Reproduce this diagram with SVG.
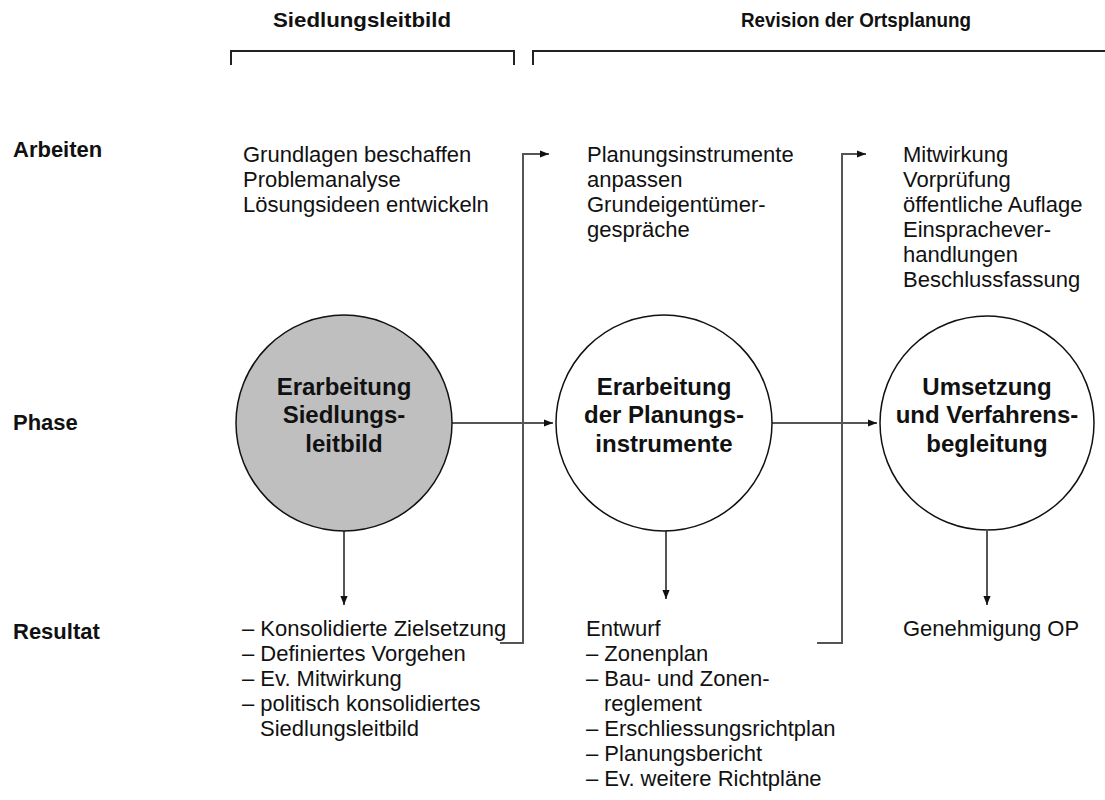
<svg xmlns="http://www.w3.org/2000/svg" width="1105" height="800" viewBox="0 0 1105 800">
<style>
text{font-family:"Liberation Sans",Arial,sans-serif;fill:#111}
.h{font-size:21px;font-weight:bold}
.lab{font-size:22px;font-weight:bold}
.t{font-size:22px}
.c{font-size:24px;font-weight:bold;text-anchor:middle}
.br{fill:none;stroke:#222;stroke-width:2}
.con{fill:none;stroke:#555;stroke-width:2}
.node{stroke:#111;stroke-width:1.5}
</style>
<defs>
<marker id="ah" viewBox="0 0 10 10" refX="10" refY="5" markerWidth="9" markerHeight="9" markerUnits="userSpaceOnUse" orient="auto">
<path d="M0,1 L10,5 L0,9 Z" fill="#111"/>
</marker>
</defs>
<g id="headers">
<text class="h" x="273" y="27" textLength="178" lengthAdjust="spacingAndGlyphs">Siedlungsleitbild</text>
<text class="h" x="741" y="27" textLength="230" lengthAdjust="spacingAndGlyphs">Revision der Ortsplanung</text>
<path class="br" d="M231,65 V51 H514 V65"/>
<path class="br" d="M533,65 V51 H1105"/>
</g>
<g id="rowlabels">
<text class="lab" x="13" y="157">Arbeiten</text>
<text class="lab" x="13" y="430">Phase</text>
<text class="lab" x="13" y="639">Resultat</text>
</g>
<g id="connectors">
<line class="con" x1="452" y1="423" x2="553" y2="423" marker-end="url(#ah)"/>
<line class="con" x1="772" y1="423" x2="877" y2="423" marker-end="url(#ah)"/>
<line class="con" x1="344" y1="531" x2="344" y2="605" marker-end="url(#ah)"/>
<line class="con" x1="666" y1="531" x2="666" y2="599" marker-end="url(#ah)"/>
<line class="con" x1="987" y1="531" x2="987" y2="605" marker-end="url(#ah)"/>
<path class="con" d="M500,643 H523 V154 H549" marker-end="url(#ah)"/>
<path class="con" d="M817,643 H842 V154 H866" marker-end="url(#ah)"/>
</g>
<g id="node-siedlungsleitbild">
<circle class="node" cx="344" cy="423" r="108" fill="#bfbfbf"/>
<text class="c" x="344" y="395">Erarbeitung</text>
<text class="c" x="344" y="423">Siedlungs-</text>
<text class="c" x="344" y="452">leitbild</text>
</g>
<g id="node-planungsinstrumente">
<circle class="node" cx="664" cy="423" r="108" fill="#fff"/>
<text class="c" x="664" y="395">Erarbeitung</text>
<text class="c" x="664" y="423">der Planungs-</text>
<text class="c" x="664" y="452">instrumente</text>
</g>
<g id="node-umsetzung">
<circle class="node" cx="987" cy="423" r="107" fill="#fff"/>
<text class="c" x="987" y="395">Umsetzung</text>
<text class="c" x="987" y="423">und Verfahrens-</text>
<text class="c" x="987" y="452">begleitung</text>
</g>
<g id="arbeiten">
<text class="t" x="243" y="162">Grundlagen beschaffen</text>
<text class="t" x="243" y="187">Problemanalyse</text>
<text class="t" x="243" y="212">Lösungsideen entwickeln</text>
<text class="t" x="587" y="162">Planungsinstrumente</text>
<text class="t" x="587" y="187">anpassen</text>
<text class="t" x="587" y="212">Grundeigentümer-</text>
<text class="t" x="587" y="237">gespräche</text>
<text class="t" x="903" y="162">Mitwirkung</text>
<text class="t" x="903" y="187">Vorprüfung</text>
<text class="t" x="903" y="212">öffentliche Auflage</text>
<text class="t" x="903" y="237">Einsprachever-</text>
<text class="t" x="903" y="262">handlungen</text>
<text class="t" x="903" y="287">Beschlussfassung</text>
</g>
<g id="resultat">
<text class="t" x="242" y="636">– Konsolidierte Zielsetzung</text>
<text class="t" x="242" y="661">– Definiertes Vorgehen</text>
<text class="t" x="242" y="686">– Ev. Mitwirkung</text>
<text class="t" x="242" y="711">– politisch konsolidiertes</text>
<text class="t" x="260" y="736">Siedlungsleitbild</text>
<text class="t" x="586" y="636">Entwurf</text>
<text class="t" x="586" y="661">– Zonenplan</text>
<text class="t" x="586" y="686">– Bau- und Zonen-</text>
<text class="t" x="604" y="711">reglement</text>
<text class="t" x="586" y="736">– Erschliessungsrichtplan</text>
<text class="t" x="586" y="761">– Planungsbericht</text>
<text class="t" x="586" y="786">– Ev. weitere Richtpläne</text>
<text class="t" x="903" y="636">Genehmigung OP</text>
</g>
</svg>
